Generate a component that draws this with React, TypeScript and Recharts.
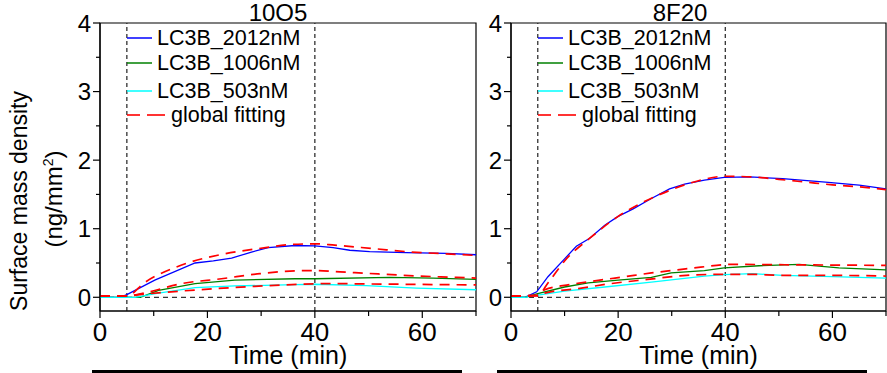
import { LineChart, Line, XAxis, YAxis, ReferenceLine, ReferenceArea, Legend } from 'recharts';

const FONT = '"Liberation Sans", Arial, Helvetica, sans-serif';

const SERIES_NAMES = ['LC3B_2012nM', 'LC3B_1006nM', 'LC3B_503nM'];
const FIT_NAME = 'global fitting';
const COLORS = ['#0000ff', '#008000', '#00ffff'];
const FIT_COLOR = '#ff0000';
const X_TICKS = [0, 10, 20, 30, 40, 50, 60, 70];
const Y_TICKS = [0, 0.5, 1, 1.5, 2, 2.5, 3, 3.5, 4];
const MARKERS = [5, 40];

// 10O5
const t10_2012 = [0, 3.7, 5, 10.2, 17.7, 21.1, 24.5, 28.2, 31.3, 36.3, 40, 43.4, 46.5, 50.2, 57, 64.5, 70];
const v10_2012 = [0, 0, 0.04, 0.25, 0.5, 0.53, 0.57, 0.66, 0.725, 0.755, 0.75, 0.725, 0.686, 0.667, 0.65, 0.64, 0.62];
const t10_1006 = [0, 7.5, 10.9, 17.7, 25.1, 36.3, 40, 54, 62, 70];
const v10_1006 = [0, 0, 0.1, 0.2, 0.25, 0.27, 0.27, 0.29, 0.28, 0.26];
const t10_503 = [0, 6.5, 10.9, 17.7, 25.1, 36.3, 40, 49.6, 58.9, 70];
const v10_503 = [0, 0, 0.06, 0.14, 0.165, 0.185, 0.19, 0.17, 0.135, 0.11];
const tf10_2012 = [0, 5, 8.4, 15.2, 22.3, 29.5, 35.7, 40, 43.7, 50.9, 58, 65.4, 70];
const vf10_2012 = [0.02, 0.02, 0.22, 0.47, 0.62, 0.71, 0.77, 0.78, 0.76, 0.71, 0.66, 0.63, 0.61];
const tf10_1006 = [0, 5, 8.1, 15.2, 22.6, 29.8, 36.3, 40, 44.7, 51.8, 59.2, 66.4, 70];
const vf10_1006 = [0.02, 0.02, 0.06, 0.2, 0.27, 0.345, 0.385, 0.39, 0.37, 0.34, 0.31, 0.29, 0.28];
const tf10_503 = [0, 5, 7.4, 14.9, 21.7, 28.8, 35.7, 42.5, 49.3, 56.4, 63.3, 70];
const vf10_503 = [0.02, 0.02, 0.04, 0.09, 0.127, 0.16, 0.185, 0.2, 0.195, 0.19, 0.185, 0.18];

// 8F20
const t8_2012 = [0, 2.6, 4.8, 6.9, 10, 12.2, 14.7, 17.5, 20, 22.8, 26.2, 29.6, 32.4, 36.1, 39.8, 44.5, 50.7, 58.7, 65, 70];
const v8_2012 = [0, 0, 0.08, 0.3, 0.56, 0.745, 0.86, 1.05, 1.18, 1.29, 1.44, 1.58, 1.65, 1.71, 1.75, 1.755, 1.73, 1.68, 1.635, 1.58];
const t8_1006 = [0, 2.6, 4.8, 10, 14.4, 20, 26.2, 29.9, 36.1, 39.8, 46.3, 53.8, 61.2, 70];
const v8_1006 = [0, 0, 0.05, 0.15, 0.21, 0.25, 0.29, 0.355, 0.39, 0.43, 0.46, 0.48, 0.43, 0.4];
const t8_503 = [0, 2.6, 5, 10, 17.5, 26.2, 36.1, 39.8, 45.1, 50.7, 60, 70];
const v8_503 = [0, 0, 0.03, 0.09, 0.15, 0.22, 0.31, 0.33, 0.345, 0.32, 0.3, 0.28];
const tf8_2012 = [0, 5, 7, 10, 15, 20, 25, 30, 35, 40, 45, 50, 55, 60, 65, 70];
const vf8_2012 = [0.02, 0.03, 0.22, 0.53, 0.88, 1.18, 1.4, 1.57, 1.7, 1.765, 1.755, 1.72, 1.68, 1.64, 1.61, 1.57];
const tf8_1006 = [0, 5, 6.3, 11, 16.6, 21.2, 26.2, 31.1, 35.4, 41.4, 50, 60, 70];
const vf8_1006 = [0.02, 0.03, 0.11, 0.185, 0.25, 0.3, 0.355, 0.4, 0.44, 0.48, 0.475, 0.47, 0.465];
const tf8_503 = [0, 5, 6.3, 12.5, 18.7, 25.5, 32.7, 39.2, 44.5, 50.7, 58.7, 70];
const vf8_503 = [0.015, 0.02, 0.06, 0.127, 0.2, 0.26, 0.32, 0.335, 0.335, 0.32, 0.32, 0.31];

const zip = (t: number[], v: number[]) => t.map((x, i) => ({ t: x, v: v[i] }));

function YTick({ x, y, payload }: any) {
  const major = Number.isInteger(payload.value);
  return (
    <g>
      <line x1={x - (major ? 7 : 4)} x2={x} y1={y} y2={y} stroke="#000" strokeWidth={1.2} />
      {major && (
        <text x={x - 9} y={y} dy="0.36em" textAnchor="end" fontSize={24} fontFamily={FONT} fill="#000">
          {payload.value}
        </text>
      )}
    </g>
  );
}

function XTick({ x, y, payload }: any) {
  const major = payload.value % 20 === 0;
  return (
    <g>
      <line x1={x} x2={x} y1={y} y2={y + (major ? 7 : 5)} stroke="#000" strokeWidth={1.2} />
      {major && (
        <text x={x} y={y + 30} textAnchor="middle" fontSize={26} fontFamily={FONT} fill="#000">
          {payload.value}
        </text>
      )}
    </g>
  );
}

function YTitle() {
  return (
    <g fontFamily={FONT} fill="#000">
      <text transform="translate(27,201) rotate(-90)" textAnchor="middle" fontSize={23}>Surface mass density</text>
      <text transform="translate(62,199) rotate(-90)" textAnchor="middle" fontSize={24}>
        (ng/mm<tspan dy={-9} fontSize={14}>2</tspan><tspan dy={9}>)</tspan>
      </text>
    </g>
  );
}

function Title({ text, cx }: { text: string; cx: number }) {
  return (
    <text x={cx} y={21} textAnchor="middle" fontSize={24} fontFamily={FONT} fill="#000">{text}</text>
  );
}

const LEGEND_ORDER = [...SERIES_NAMES, FIT_NAME];
const LEGEND_ROWS = [38, 63, 91, 115];

function LegendBox({ payload }: any) {
  const items = LEGEND_ORDER.map(name => (payload || []).find((p: any) => p.value === name && p.type !== 'none'))
    .filter(Boolean);
  return (
    <svg width={240} height={130} style={{ position: 'absolute', left: 0, top: 0, overflow: 'visible' }}>
      {items.map((p: any, i: number) => {
        const y = LEGEND_ROWS[i];
        const fit = p.value === FIT_NAME;
        return (
          <g key={p.value}>
            {fit ? (
              <>
                <line x1={127} x2={140} y1={y} y2={y} stroke={p.color} strokeWidth={1.6} />
                <line x1={147} x2={165} y1={y} y2={y} stroke={p.color} strokeWidth={1.6} />
              </>
            ) : (
              <line x1={127} x2={152} y1={y} y2={y} stroke={p.color} strokeWidth={1.5} />
            )}
            <text x={fit ? 171 : 157} y={y + 7} fontSize={21.5} fontFamily={FONT} fill="#000">{p.value}</text>
          </g>
        );
      })}
    </svg>
  );
}

interface PanelProps {
  title: string;
  titleX: number;
  left: number;
  width: number;
  marginRight: number;
  data: { t: number; v: number }[][];
  fits: { t: number; v: number }[][];
  yTitle?: boolean;
}

function Panel({ title, titleX, left, width, marginRight, data, fits, yTitle }: PanelProps) {
  return (
    <LineChart
      width={width}
      height={373}
      margin={{ top: 23, right: marginRight, left: 0, bottom: 0 }}
      style={{ position: 'absolute', left, top: 0 }}
    >
      <XAxis
        dataKey="t" type="number" domain={[0, 70]} ticks={X_TICKS} interval={0}
        height={62} tickSize={0} tickMargin={0} tick={<XTick />}
        axisLine={{ stroke: '#000', strokeWidth: 1.2 }}
        label={{ value: 'Time (min)', position: 'insideBottom', offset: 9, fontSize: 25, fill: '#000', fontFamily: FONT }}
      />
      <YAxis
        type="number" domain={[-0.2, 4]} ticks={Y_TICKS} interval={0} allowDataOverflow
        width={100} tickSize={0} tickMargin={0} tick={<YTick />}
        axisLine={{ stroke: '#000', strokeWidth: 1.2 }}
        label={yTitle ? <YTitle /> : undefined}
      />
      <ReferenceArea
        x1={0} x2={70} y1={-0.2} y2={4} fill="none" stroke="#000" strokeWidth={1.2}
        label={<Title text={title} cx={titleX} />}
      />
      <ReferenceLine y={0} stroke="#333" strokeDasharray="5 4" strokeWidth={1.2} />
      {MARKERS.map(m => (
        <ReferenceLine key={m} x={m} stroke="#222" strokeDasharray="4 3" strokeWidth={1.2} />
      ))}
      {data.map((d, i) => (
        <Line
          key={SERIES_NAMES[i]} data={d} dataKey="v" name={SERIES_NAMES[i]} type="linear"
          stroke={COLORS[i]} strokeWidth={1.3} dot={false} activeDot={false} isAnimationActive={false}
        />
      ))}
      {fits.map((d, i) => (
        <Line
          key={`fit${i}`} data={d} dataKey="v" name={FIT_NAME} type="monotone"
          legendType={i === 0 ? 'line' : 'none'}
          stroke={FIT_COLOR} strokeWidth={1.7} strokeDasharray="10 7"
          dot={false} activeDot={false} isAnimationActive={false}
        />
      ))}
      <Legend
        layout="horizontal" verticalAlign="middle" align="center"
        content={<LegendBox />}
        wrapperStyle={{ left: 0, top: 0, width: 240, height: 130 }}
      />
    </LineChart>
  );
}

export default function App() {
  return (
    <div style={{ position: 'absolute', left: 0, top: 0, width: 887, height: 373, overflow: 'hidden', background: '#fff' }}>
      <Panel
        title="10O5" titleX={278} left={0} width={480} marginRight={4} yTitle
        data={[zip(t10_2012, v10_2012), zip(t10_1006, v10_1006), zip(t10_503, v10_503)]}
        fits={[zip(tf10_2012, vf10_2012), zip(tf10_1006, vf10_1006), zip(tf10_503, vf10_503)]}
      />
      <Panel
        title="8F20" titleX={269} left={411} width={476} marginRight={1}
        data={[zip(t8_2012, v8_2012), zip(t8_1006, v8_1006), zip(t8_503, v8_503)]}
        fits={[zip(tf8_2012, vf8_2012), zip(tf8_1006, vf8_1006), zip(tf8_503, vf8_503)]}
      />
      <div style={{ position: 'absolute', left: 92, top: 370, width: 370, height: 3, background: '#000' }} />
      <div style={{ position: 'absolute', left: 497, top: 370, width: 370, height: 3, background: '#000' }} />
    </div>
  );
}
